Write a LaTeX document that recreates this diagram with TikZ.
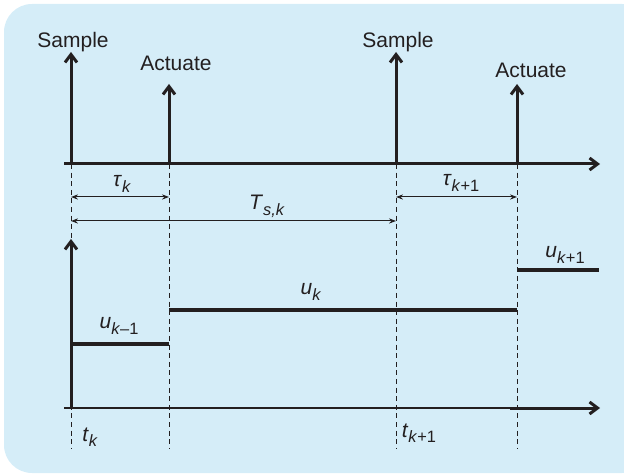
\documentclass[tikz,border=0pt]{standalone}
\usepackage{fontspec}
\setmainfont{Liberation Sans}
\usetikzlibrary{arrows.meta}
\definecolor{panel}{HTML}{D5EDF8}
\definecolor{ink}{HTML}{231F20}
\newcommand{\isub}[2]{\textit{#1}\raisebox{-2.6pt}{\fontsize{8.2}{9}\selectfont #2}}

\begin{document}
\begin{tikzpicture}[x=0.5pt,y=-0.5pt,font=\fontsize{10.5}{12}\selectfont,
    axis/.style={ink,line width=1.5pt,-{Straight Barb[length=4pt,width=6pt]}},
    guide/.style={ink,line width=0.5pt,dash pattern=on 2.5pt off 1.8pt},
    span/.style={ink,line width=0.5pt,{Stealth[length=3.5pt,width=2.6pt]}-{Stealth[length=3.5pt,width=2.6pt]}},
    level/.style={ink,line width=2pt},
    lbl/.style={text=ink,anchor=base,inner sep=0pt}]
        \useasboundingbox (0,0) rectangle (624,474);
        \fill[panel,rounded corners=14] (4,4) rectangle (650,473);
        % event instants on the upper time axis
        \coordinate (sk) at (71,164);
        \coordinate (ak) at (169,164);
        \coordinate (sk1) at (396,164);
        \coordinate (ak1) at (517,164);
        \coordinate (sktop) at (71,52);
        \coordinate (aktop) at (169,84);
        \coordinate (sk1top) at (396,52);
        \coordinate (ak1top) at (517,84);
        \coordinate (skend) at (71,449);
        \coordinate (akend) at (169,449);
        \coordinate (sk1end) at (396,449);
        \coordinate (ak1end) at (517,449);
        \draw[guide] (sk) -- (skend);
        \draw[guide] (ak) -- (akend);
        \draw[guide] (sk1) -- (sk1end);
        \draw[guide] (ak1) -- (ak1end);
        \coordinate (top0) at (64,164);
        \coordinate (top1) at (600,164);
        \draw[axis] (top0) -- (top1);
        \draw[axis] (sk) -- (sktop);
        \draw[axis] (ak) -- (aktop);
        \draw[axis] (sk1) -- (sk1top);
        \draw[axis] (ak1) -- (ak1top);
        \node[lbl] (samp1) at (73,48) {Sample};
        \node[lbl] (act1) at (176,71) {Actuate};
        \node[lbl] (samp2) at (398,48) {Sample};
        \node[lbl] (act2) at (531,78) {Actuate};
        % delays and sampling interval
        \coordinate (tauL) at (71,197);
        \coordinate (tauR) at (169,197);
        \coordinate (TsL) at (71,221);
        \coordinate (TsR) at (396,221);
        \coordinate (tau1L) at (396,197);
        \coordinate (tau1R) at (517,197);
        \draw[span] (tauL) -- (tauR);
        \draw[span] (TsL) -- (TsR);
        \draw[span] (tau1L) -- (tau1R);
        \node[lbl] (tauk) at (122,187) {\isub{τ}{\textit{k}}};
        \node[lbl] (Tsk) at (267,210) {\isub{T}{\textit{s,k}}};
        \node[lbl] (tauk1) at (461,186) {\isub{τ}{\textit{k}+1}};
        % control signal
        \coordinate (bot0) at (64,408);
        \coordinate (botm) at (510,408);
        \coordinate (bot1) at (600,408);
        \coordinate (uaxis) at (71,239);
        \draw[axis,line width=1pt,-] (bot0) -- (botm);
        \draw[axis] (botm) -- (bot1);
        \draw[axis] (71,408) -- (uaxis);
        \coordinate (u0a) at (71,344);
        \coordinate (u0b) at (169,344);
        \coordinate (u1a) at (169,310);
        \coordinate (u1b) at (517,310);
        \coordinate (u2a) at (517,270);
        \coordinate (u2b) at (599,270);
        \draw[level] (u0a) -- (u0b);
        \draw[level] (u1a) -- (u1b);
        \draw[level] (u2a) -- (u2b);
        \node[lbl] (ukm1) at (119,329) {\isub{u}{\textit{k}–1}};
        \node[lbl] (uk) at (311,295) {\isub{u}{\textit{k}}};
        \node[lbl] (ukp1) at (565,258) {\isub{u}{\textit{k}+1}};
        \node[lbl] (tk) at (90,441) {\isub{t}{\textit{k}}};
        \node[lbl] (tk1) at (419,437) {\isub{t}{\textit{k}+1}};
      \end{tikzpicture}
\end{document}
